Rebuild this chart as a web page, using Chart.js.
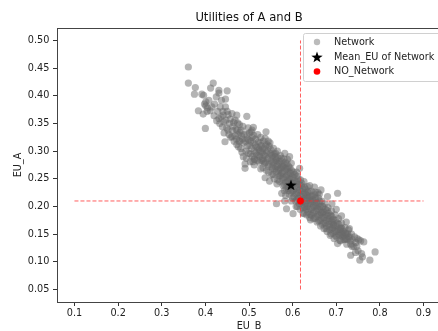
<!DOCTYPE html>
<html>
<head>
<meta charset="utf-8">
<script src="https://cdn.jsdelivr.net/npm/chart.js@4.4.1/dist/chart.umd.min.js"></script>
<style>
  html, body { margin: 0; padding: 0; background: #fff; overflow: hidden; }
  #utilities-chart { display: block; }
</style>
</head>
<body>
<canvas id="utilities-chart" width="446" height="331"></canvas>
<script>
// Values
const chartTitle = 'Utilities of A and B';
const xAxisLabel = 'EU_B';
const yAxisLabel = 'EU_A';
const xTicks = [0.1, 0.2, 0.3, 0.4, 0.5, 0.6, 0.7, 0.8, 0.9];
const yTicks = [0.05, 0.10, 0.15, 0.20, 0.25, 0.30, 0.35, 0.40, 0.45, 0.50];

const legendLabels = ['Network', 'Mean_EU of Network', 'NO_Network'];

const meanPoint = [0.596, 0.239];
const noNetworkPoint = [0.618, 0.21];

// dashed guide lines through the NO_Network point
const hLineX = [0.1, 0.9];
const hLineY = 0.21;
const vLineX = 0.618;
const vLineY = [0.05, 0.5];

// EU_B, EU_A of each network run
const networkPoints = [
    [0.361,0.452],[0.361,0.423],[0.377,0.415],[0.375,0.403],[0.392,0.403],[0.396,0.401],[0.418,0.423],[0.412,0.414],
    [0.431,0.410],[0.450,0.409],[0.431,0.405],[0.401,0.389],[0.401,0.382],[0.384,0.373],[0.395,0.367],[0.400,0.341],
    [0.411,0.373],[0.446,0.394],[0.446,0.380],[0.431,0.359],[0.439,0.344],[0.445,0.317],[0.420,0.364],[0.405,0.378],
    [0.398,0.385],[0.425,0.398],[0.437,0.392],[0.440,0.372],[0.452,0.366],[0.447,0.356],[0.455,0.350],[0.443,0.333],
    [0.452,0.338],[0.458,0.325],[0.461,0.368],[0.472,0.365],[0.495,0.363],[0.461,0.326],[0.476,0.308],[0.463,0.345],
    [0.468,0.356],[0.470,0.340],[0.475,0.330],[0.478,0.348],[0.482,0.338],[0.485,0.322],[0.466,0.318],[0.472,0.312],
    [0.481,0.305],[0.488,0.315],[0.491,0.269],[0.491,0.277],[0.487,0.290],[0.493,0.300],
    [0.404,0.372],[0.408,0.392],[0.415,0.380],[0.421,0.385],[0.428,0.372],[0.434,0.380],[0.436,0.362],[0.442,0.353],
    [0.449,0.342],[0.454,0.330],[0.457,0.358],[0.462,0.337],[0.465,0.352],[0.468,0.328],[0.473,0.338],[0.433,0.350],
    [0.441,0.365],[0.450,0.372],[0.426,0.355],
    [0.495,0.330],[0.498,0.342],[0.500,0.320],[0.502,0.310],[0.503,0.295],[0.505,0.335],[0.507,0.338],[0.510,0.343],
    [0.507,0.325],[0.510,0.315],[0.512,0.300],[0.513,0.285],[0.512,0.275],[0.515,0.322],[0.517,0.308],[0.518,0.293],
    [0.520,0.330],[0.522,0.317],[0.523,0.303],[0.525,0.290],[0.524,0.280],[0.527,0.325],[0.528,0.310],[0.530,0.298],
    [0.531,0.286],[0.532,0.270],[0.533,0.318],[0.535,0.305],[0.537,0.323],[0.539,0.335],[0.537,0.292],[0.538,0.280],
    [0.540,0.265],[0.541,0.312],[0.543,0.300],[0.545,0.288],[0.546,0.276],[0.547,0.246],[0.548,0.315],[0.550,0.303],
    [0.552,0.292],[0.553,0.280],[0.554,0.268],[0.555,0.258],[0.556,0.305],[0.558,0.295],[0.560,0.290],[0.560,0.283],
    [0.561,0.272],[0.562,0.262],[0.564,0.241],[0.563,0.205],[0.537,0.252],[0.512,0.286],[0.527,0.268],[0.545,0.262],
    [0.471,0.322],[0.474,0.351],[0.477,0.318],[0.479,0.334],[0.483,0.327],[0.486,0.345],[0.489,0.330],[0.492,0.318],
    [0.494,0.287],[0.496,0.309],[0.499,0.296],[0.501,0.333],[0.504,0.318],[0.506,0.305],[0.508,0.291],[0.509,0.281],
    [0.511,0.328],[0.514,0.311],[0.516,0.297],[0.519,0.283],[0.521,0.306],[0.479,0.318],[0.484,0.298],[0.497,0.322],
    [0.503,0.281],
    [0.523,0.292],[0.526,0.315],[0.529,0.283],[0.531,0.304],[0.534,0.293],[0.536,0.278],[0.538,0.310],[0.540,0.298],
    [0.542,0.286],[0.544,0.273],[0.546,0.309],[0.549,0.296],[0.551,0.283],[0.553,0.271],[0.555,0.292],[0.557,0.280],
    [0.559,0.268],[0.561,0.296],[0.563,0.284],[0.565,0.273],[0.567,0.260],[0.569,0.281],[0.526,0.300],[0.533,0.282],
    [0.544,0.318],[0.552,0.257],[0.558,0.250],[0.566,0.248],
    [0.565,0.300],[0.566,0.288],[0.567,0.277],[0.568,0.266],[0.569,0.255],[0.570,0.245],[0.572,0.292],[0.573,0.282],
    [0.574,0.270],[0.575,0.260],[0.575,0.224],[0.576,0.250],[0.578,0.238],[0.580,0.286],[0.581,0.275],[0.582,0.296],
    [0.582,0.264],[0.582,0.210],[0.583,0.253],[0.584,0.243],[0.585,0.232],[0.586,0.196],[0.587,0.278],[0.588,0.268],
    [0.589,0.257],[0.590,0.246],[0.590,0.229],[0.591,0.236],[0.592,0.222],[0.593,0.290],[0.594,0.270],[0.595,0.260],
    [0.596,0.250],[0.597,0.278],[0.598,0.240],[0.599,0.228],[0.600,0.215],[0.601,0.187],[0.602,0.262],[0.603,0.252],
    [0.604,0.242],[0.605,0.232],[0.606,0.222],[0.607,0.210],[0.608,0.200],[0.610,0.255],[0.611,0.245],[0.612,0.235],
    [0.613,0.225],[0.614,0.215],[0.615,0.205],[0.616,0.269],[0.617,0.195],[0.618,0.248],[0.619,0.238],[0.620,0.228],
    [0.621,0.218],[0.622,0.208],[0.623,0.198],[0.624,0.188],[0.626,0.245],[0.627,0.235],[0.628,0.225],[0.629,0.215],
    [0.630,0.205],[0.631,0.195],[0.632,0.185],[0.634,0.236],[0.635,0.226],[0.636,0.216],[0.637,0.206],[0.638,0.196],
    [0.639,0.238],[0.640,0.186],[0.641,0.176],[0.578,0.272],[0.592,0.262],[0.606,0.245],[0.620,0.212],[0.633,0.220],
    [0.571,0.268],[0.572,0.256],[0.574,0.287],[0.576,0.275],[0.577,0.263],[0.579,0.252],[0.580,0.241],[0.581,0.229],
    [0.583,0.280],[0.585,0.268],[0.586,0.256],[0.587,0.244],[0.589,0.233],[0.591,0.272],[0.593,0.250],[0.594,0.238],
    [0.596,0.226],[0.598,0.265],[0.599,0.253],[0.601,0.241],[0.602,0.229],[0.603,0.217],[0.605,0.258],[0.607,0.236],
    [0.609,0.224],[0.610,0.212],[0.611,0.200],[0.613,0.250],[0.615,0.240],[0.616,0.230],[0.617,0.220],[0.619,0.208],
    [0.584,0.220],[0.597,0.210],[0.609,0.262],[0.588,0.285],
    [0.643,0.228],[0.644,0.218],[0.645,0.208],[0.646,0.198],[0.647,0.188],[0.648,0.178],[0.650,0.235],[0.651,0.222],
    [0.652,0.212],[0.653,0.202],[0.654,0.192],[0.655,0.182],[0.656,0.172],[0.658,0.225],[0.659,0.215],[0.660,0.205],
    [0.661,0.195],[0.662,0.185],[0.663,0.175],[0.664,0.165],[0.665,0.230],[0.667,0.210],[0.668,0.200],[0.669,0.190],
    [0.670,0.180],[0.671,0.170],[0.672,0.160],[0.674,0.205],[0.675,0.195],[0.676,0.185],[0.677,0.175],[0.678,0.165],
    [0.679,0.155],[0.680,0.218],[0.681,0.198],[0.682,0.188],[0.683,0.178],[0.684,0.168],[0.685,0.158],[0.686,0.148],
    [0.621,0.242],[0.623,0.232],[0.624,0.222],[0.625,0.210],[0.627,0.198],[0.629,0.232],[0.630,0.222],[0.632,0.211],
    [0.633,0.200],[0.635,0.190],[0.637,0.228],[0.638,0.217],[0.640,0.206],[0.642,0.195],[0.643,0.184],[0.645,0.220],
    [0.646,0.212],[0.648,0.201],[0.649,0.190],[0.651,0.179],[0.653,0.215],[0.655,0.207],[0.657,0.196],[0.658,0.185],
    [0.660,0.174],[0.662,0.210],[0.663,0.200],[0.665,0.190],[0.666,0.179],[0.668,0.168],[0.670,0.200],[0.672,0.190],
    [0.673,0.180],[0.675,0.170],[0.677,0.160],[0.679,0.193],[0.626,0.187],[0.639,0.180],[0.652,0.226],[0.661,0.222],
    [0.688,0.151],[0.689,0.192],[0.690,0.182],[0.691,0.172],[0.692,0.162],[0.693,0.152],[0.695,0.142],[0.697,0.185],
    [0.698,0.175],[0.699,0.165],[0.700,0.155],[0.701,0.145],[0.703,0.224],[0.703,0.133],[0.705,0.178],[0.706,0.168],
    [0.707,0.158],[0.708,0.148],[0.710,0.138],[0.712,0.170],[0.713,0.160],[0.714,0.150],[0.715,0.146],[0.717,0.140],
    [0.681,0.183],[0.683,0.173],[0.685,0.163],[0.687,0.184],[0.689,0.174],[0.691,0.160],[0.693,0.177],[0.695,0.166],
    [0.697,0.155],[0.699,0.147],[0.702,0.170],[0.704,0.158],[0.706,0.150],[0.708,0.139],[0.711,0.162],[0.713,0.152],
    [0.716,0.155],[0.718,0.148],[0.720,0.140],[0.723,0.150],[0.725,0.141],[0.728,0.145],[0.732,0.138],[0.736,0.128],
    [0.744,0.117],[0.748,0.142],[0.700,0.195],[0.690,0.205],[0.712,0.183],[0.723,0.172],
    [0.720,0.162],[0.721,0.152],[0.722,0.142],[0.724,0.132],[0.726,0.151],[0.728,0.158],[0.730,0.160],[0.731,0.145],
    [0.733,0.132],[0.733,0.112],[0.735,0.150],[0.737,0.140],[0.740,0.128],[0.742,0.145],[0.745,0.135],[0.747,0.128],
    [0.750,0.120],[0.752,0.140],[0.754,0.103],[0.756,0.138],[0.758,0.115],[0.760,0.109],[0.763,0.136],[0.777,0.103],
    [0.789,0.118],[0.666,0.188],[0.654,0.200],[0.641,0.210],[0.628,0.200],[0.694,0.168],[0.709,0.160]
];

const fontFamily = '"DejaVu Sans", sans-serif';
const pointColor = 'rgba(105, 105, 105, 0.5)';
const lineColor = 'rgba(255, 40, 40, 0.75)';

// filled five-point star like matplotlib's '*' marker
function makeStar(size) {
    const c = document.createElement('canvas');
    c.width = size;
    c.height = size;
    const g = c.getContext('2d');
    const cx = size / 2, cy = size / 2 + 0.5;
    const outer = size / 2, inner = outer * 0.4;
    g.beginPath();
    for (let i = 0; i < 10; i++) {
        const r = i % 2 === 0 ? outer : inner;
        const a = -Math.PI / 2 + i * Math.PI / 5;
        const px = cx + r * Math.cos(a), py = cy + r * Math.sin(a);
        if (i === 0) g.moveTo(px, py); else g.lineTo(px, py);
    }
    g.closePath();
    g.fillStyle = '#000';
    g.fill();
    return c;
}
const starImage = makeStar(12);

// matplotlib-style legend box in the top right corner of the plot
const boxLegend = {
    id: 'boxLegend',
    afterDraw(chart) {
        const ctx = chart.ctx;
        const left = 303, top = 33, bottom = 81;
        ctx.save();
        ctx.fillStyle = 'rgba(255,255,255,0.85)';
        ctx.strokeStyle = '#d0d0d0';
        ctx.lineWidth = 1;
        ctx.beginPath();
        ctx.roundRect(left + 0.5, top + 0.5, 160, bottom - top, 2);
        ctx.fill();
        ctx.stroke();

        const rows = [42, 57, 71.5];
        const markerX = 317, textX = 334;
        ctx.fillStyle = 'rgba(105,105,105,0.45)';
        ctx.beginPath();
        ctx.arc(markerX, rows[0], 3.2, 0, Math.PI * 2);
        ctx.fill();
        ctx.drawImage(starImage, markerX - 6, rows[1] - 6);
        ctx.fillStyle = '#ff0000';
        ctx.beginPath();
        ctx.arc(markerX, rows[2], 3.3, 0, Math.PI * 2);
        ctx.fill();

        ctx.fillStyle = '#222';
        ctx.font = '9.7px ' + fontFamily;
        ctx.textBaseline = 'middle';
        ctx.textAlign = 'left';
        legendLabels.forEach((label, i) => ctx.fillText(label, textX, rows[i]));
        ctx.restore();
    }
};

const ctx = document.getElementById('utilities-chart').getContext('2d');

new Chart(ctx, {
    type: 'scatter',
    data: {
        datasets: [
            {
                label: legendLabels[0],
                data: networkPoints.map(p => ({ x: p[0], y: p[1] })),
                backgroundColor: pointColor,
                borderWidth: 0,
                pointRadius: 3.6,
                order: 4
            },
            {
                label: 'hline',
                data: hLineX.map(x => ({ x: x, y: hLineY })),
                showLine: true,
                borderColor: lineColor,
                borderWidth: 1,
                borderDash: [4, 2],
                pointRadius: 0,
                order: 3
            },
            {
                label: 'vline',
                data: vLineY.map(y => ({ x: vLineX, y: y })),
                showLine: true,
                borderColor: lineColor,
                borderWidth: 1,
                borderDash: [4, 2],
                pointRadius: 0,
                order: 3
            },
            {
                label: legendLabels[1],
                data: [{ x: meanPoint[0], y: meanPoint[1] }],
                pointStyle: starImage,
                order: 2
            },
            {
                label: legendLabels[2],
                data: [{ x: noNetworkPoint[0], y: noNetworkPoint[1] }],
                backgroundColor: '#ff0000',
                borderWidth: 0,
                pointRadius: 3.4,
                order: 1
            }
        ]
    },
    options: {
        responsive: false,
        animation: false,
        layout: { padding: { left: 0, right: 2, top: 0, bottom: 0 } },
        plugins: {
            legend: { display: false },
            tooltip: { enabled: false },
            title: {
                display: true,
                text: chartTitle,
                fullSize: false,
                color: '#111',
                font: { family: fontFamily, size: 11.6, weight: 'normal' },
                padding: { top: 11, bottom: 3.08 }
            }
        },
        scales: {
            x: {
                type: 'linear',
                min: 0.06,
                max: 0.94,
                afterBuildTicks: (scale) => { scale.ticks = xTicks.map(v => ({ value: v })); },
                afterFit: (scale) => { scale.height = 29; },
                grid: { drawOnChartArea: false, drawTicks: true, tickLength: 4, color: '#333' },
                border: { display: true, color: '#444', width: 1 },
                ticks: {
                    color: '#222',
                    padding: 1.5,
                    maxRotation: 0,
                    font: { family: fontFamily, size: 9.7 },
                    callback: (value) => value.toFixed(1)
                },
                title: {
                    display: true,
                    text: xAxisLabel,
                    color: '#222',
                    font: { family: fontFamily, size: 9.7, lineHeight: 0.9 },
                    padding: { top: 0, bottom: 0 }
                }
            },
            y: {
                type: 'linear',
                min: 0.0275,
                max: 0.5225,
                afterBuildTicks: (scale) => { scale.ticks = yTicks.map(v => ({ value: v })); },
                afterFit: (scale) => { scale.width = 57; },
                grid: { drawOnChartArea: false, drawTicks: true, tickLength: 4, color: '#333' },
                border: { display: true, color: '#444', width: 1 },
                ticks: {
                    color: '#222',
                    padding: 3.7,
                    font: { family: fontFamily, size: 9.7 },
                    callback: (value) => value.toFixed(2)
                },
                title: {
                    display: true,
                    text: yAxisLabel,
                    color: '#222',
                    font: { family: fontFamily, size: 9.7 },
                    padding: { top: 12.5, bottom: 0 }
                }
            }
        }
    },
    plugins: [boxLegend, {
        // top and right spines of the axes frame
        id: 'topSpine',
        afterDraw(chart) {
            const a = chart.chartArea;
            const c = chart.ctx;
            c.save();
            c.strokeStyle = '#444';
            c.lineWidth = 1;
            c.beginPath();
            c.moveTo(a.left, a.top + 0.5);
            c.lineTo(a.right, a.top + 0.5);
            c.moveTo(a.right - 0.5, a.top);
            c.lineTo(a.right - 0.5, a.bottom);
            c.stroke();
            c.restore();
        }
    }]
});
</script>
</body>
</html>
